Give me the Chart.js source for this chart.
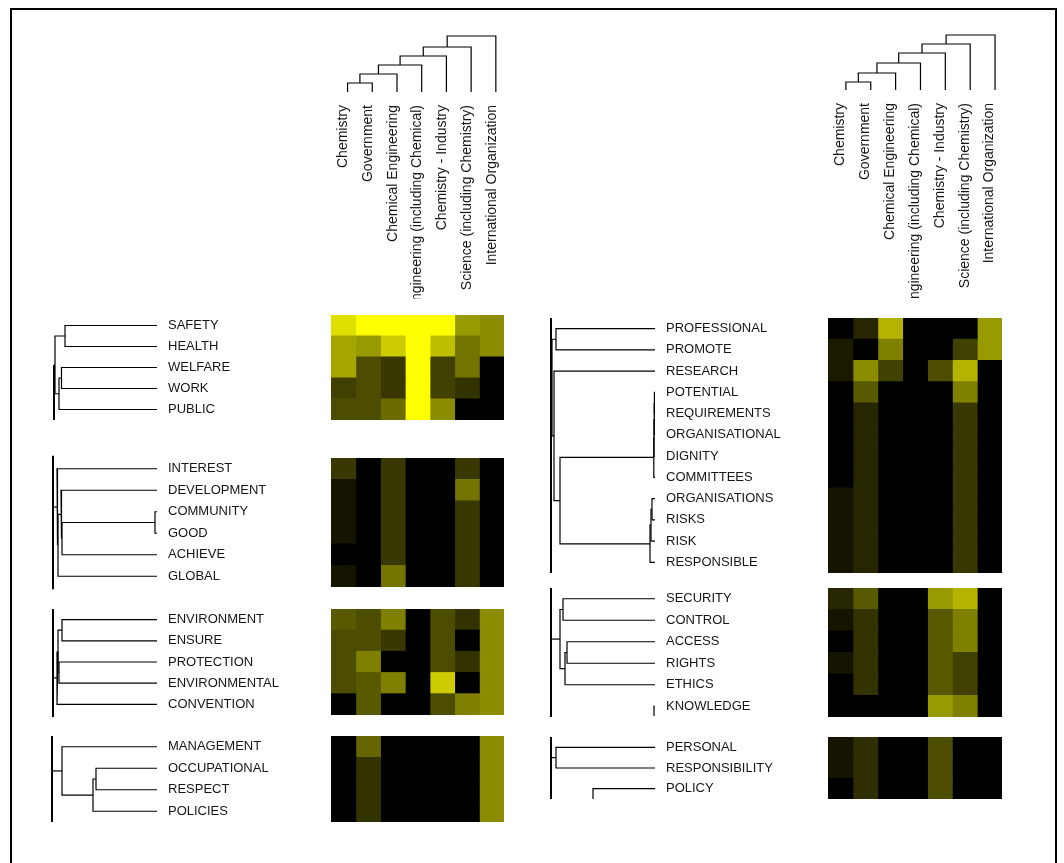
<!DOCTYPE html>
<html>
<head>
<meta charset="utf-8">
<script src="https://cdn.jsdelivr.net/npm/chart.js@4.4.1/dist/chart.umd.min.js"></script>
<style>
  body { margin: 0; background: #fff; }
  #page { position: relative; width: 1064px; height: 863px; overflow: hidden; background: #fff; }
  #frame { position: absolute; left: 10px; top: 8px; width: 1043px; height: 900px; border: 2px solid #000; }
  canvas { position: absolute; }
</style>
</head>
<body>
<div id="page"><div id="frame"></div></div>
<script>
// columns (same order in both halves)
const columns = ['Chemistry', 'Government', 'Chemical Engineering', 'Engineering (including Chemical)',
  'Chemistry - Industry', 'Science (including Chemistry)', 'International Organization'];

// dendrogram merges, hclust style: negative = leaf, positive = earlier merge, then height
const colMergesLeft = [[-1, -2, 0.9], [1, -3, 1.8], [2, -4, 2.7], [3, -5, 3.6], [4, -6, 4.5], [5, -7, 5.6]];
const colMergesRight = [[-1, -2, 0.8], [1, -3, 1.7], [2, -4, 2.7], [3, -5, 3.7], [4, -6, 4.6], [5, -7, 5.5]];

// ---- left half ----
const safetyRows = ['SAFETY', 'HEALTH', 'WELFARE', 'WORK', 'PUBLIC'];
const safetyValues = [
  [0.88, 1, 1, 1, 1, 0.6, 0.55],
  [0.65, 0.6, 0.8, 1, 0.75, 0.45, 0.55],
  [0.65, 0.3, 0.22, 1, 0.25, 0.45, 0],
  [0.25, 0.3, 0.22, 1, 0.25, 0.2, 0],
  [0.3, 0.3, 0.42, 1, 0.55, 0, 0]
];
const safetyMerges = [[-1, -2, 9.2], [-3, -4, 9.55], [2, -5, 9.8], [1, 3, 10.2]];
const safetyStem = [10.3, 1.875, 4.5];

const interestRows = ['INTEREST', 'DEVELOPMENT', 'COMMUNITY', 'GOOD', 'ACHIEVE', 'GLOBAL'];
const interestValues = [
  [0.22, 0, 0.22, 0, 0, 0.22, 0],
  [0.08, 0, 0.22, 0, 0, 0.45, 0],
  [0.08, 0, 0.22, 0, 0, 0.22, 0],
  [0.08, 0, 0.22, 0, 0, 0.22, 0],
  [0, 0, 0.22, 0, 0, 0.22, 0],
  [0.08, 0, 0.45, 0, 0, 0.22, 0]
];
const interestMerges = [[-3, -4, 0.2], [1, -5, 9.5], [-2, 2, 9.6], [3, -6, 9.9], [-1, 4, 10.0]];
const interestStem = [10.4, -0.6, 5.6];

const environmentRows = ['ENVIRONMENT', 'ENSURE', 'PROTECTION', 'ENVIRONMENTAL', 'CONVENTION'];
const environmentValues = [
  [0.35, 0.3, 0.5, 0, 0.3, 0.2, 0.55],
  [0.3, 0.3, 0.22, 0, 0.3, 0, 0.55],
  [0.3, 0.5, 0, 0, 0.3, 0.2, 0.55],
  [0.3, 0.35, 0.5, 0, 0.8, 0, 0.55],
  [0, 0.35, 0, 0, 0.3, 0.5, 0.55]
];
const environmentMerges = [[-1, -2, 9.5], [-3, -4, 9.8], [1, 2, 9.9], [3, -5, 10.0]];
const environmentStem = [10.4, -0.5, 4.6];

const managementRows = ['MANAGEMENT', 'OCCUPATIONAL', 'RESPECT', 'POLICIES'];
const managementValues = [
  [0, 0.4, 0, 0, 0, 0, 0.55],
  [0, 0.2, 0, 0, 0, 0, 0.55],
  [0, 0.2, 0, 0, 0, 0, 0.55],
  [0, 0.2, 0, 0, 0, 0, 0.55]
];
const managementMerges = [[-2, -3, 6.1], [1, -4, 6.4], [-1, 2, 9.5]];
const managementStem = [10.5, -0.5, 3.5];

// ---- right half ----
const professionalRows = ['PROFESSIONAL', 'PROMOTE', 'RESEARCH', 'POTENTIAL', 'REQUIREMENTS', 'ORGANISATIONAL',
  'DIGNITY', 'COMMITTEES', 'ORGANISATIONS', 'RISKS', 'RISK', 'RESPONSIBLE'];
const professionalValues = [
  [0, 0.15, 0.7, 0, 0, 0, 0.6],
  [0.1, 0, 0.5, 0, 0, 0.25, 0.6],
  [0.1, 0.55, 0.25, 0, 0.3, 0.7, 0],
  [0, 0.35, 0, 0, 0, 0.5, 0],
  [0, 0.15, 0, 0, 0, 0.22, 0],
  [0, 0.15, 0, 0, 0, 0.22, 0],
  [0, 0.15, 0, 0, 0, 0.22, 0],
  [0, 0.15, 0, 0, 0, 0.22, 0],
  [0.08, 0.15, 0, 0, 0, 0.22, 0],
  [0.08, 0.15, 0, 0, 0, 0.22, 0],
  [0.08, 0.15, 0, 0, 0, 0.22, 0],
  [0.08, 0.15, 0, 0, 0, 0.22, 0]
];
const professionalMerges = [[-1, -2, 9.9], [-4, -5, 0.06], [2, -6, 0.08], [3, -7, 0.1], [4, -8, 0.12],
  [-9, -10, 0.3], [6, -11, 0.4], [7, -12, 0.5], [5, 8, 9.5], [-3, 9, 10.1], [1, 10, 10.3]];
const professionalStem = [10.4, -0.5, 11.5];

const securityRows = ['SECURITY', 'CONTROL', 'ACCESS', 'RIGHTS', 'ETHICS', 'KNOWLEDGE'];
const securityValues = [
  [0.15, 0.35, 0, 0, 0.6, 0.7, 0],
  [0.08, 0.2, 0, 0, 0.35, 0.5, 0],
  [0, 0.2, 0, 0, 0.35, 0.5, 0],
  [0.08, 0.2, 0, 0, 0.35, 0.25, 0],
  [0, 0.2, 0, 0, 0.35, 0.25, 0],
  [0, 0, 0, 0, 0.6, 0.5, 0]
];
const securityMerges = [[-1, -2, 9.2], [-3, -4, 8.8], [2, -5, 9.0], [1, 3, 9.5]];
const securityStem = [10.4, -0.5, 5.5];
// leaves that hang off into a cut part of the tree: [row, height, row reached]
const securityStubs = [[5, 0.1, 5.45]];

const personalRows = ['PERSONAL', 'RESPONSIBILITY', 'POLICY'];
const personalValues = [
  [0.08, 0.18, 0, 0, 0.3, 0, 0],
  [0.08, 0.18, 0, 0, 0.3, 0, 0],
  [0, 0.18, 0, 0, 0.3, 0, 0]
];
const personalMerges = [[-1, -2, 9.9]];
const personalStem = [10.4, -0.5, 2.5];
const personalStubs = [[2, 6.2, 2.5]];

const ROW_FONT = { family: '"Liberation Sans", Arial, sans-serif', size: 13 };
const COL_FONT = { family: '"Liberation Sans", Arial, sans-serif', size: 14 };
const INK = '#161616';

function heat(v) {
  const c = Math.round(255 * v);
  return `rgb(${c},${c},0)`;
}

function addCanvas(left, top, width, height) {
  const c = document.createElement('canvas');
  c.width = width;
  c.height = height;
  c.style.left = left + 'px';
  c.style.top = top + 'px';
  document.getElementById('page').appendChild(c);
  return c;
}

// turn merges into polylines of [position, height]
function dendro(merges) {
  const pos = [], hgt = [], lines = [];
  const p = id => id < 0 ? -id - 1 : pos[id - 1];
  const h = id => id < 0 ? 0 : hgt[id - 1];
  merges.forEach(([a, b, ht]) => {
    lines.push([[p(a), h(a)], [p(a), ht], [p(b), ht], [p(b), h(b)]]);
    pos.push((p(a) + p(b)) / 2);
    hgt.push(ht);
  });
  return { lines, rootPos: pos[pos.length - 1], rootH: hgt[hgt.length - 1] };
}

function lineSet(points, width, xAxisID) {
  const set = {
    data: points,
    borderColor: '#000',
    borderWidth: width || 1.2,
    pointRadius: 0,
    tension: 0,
    fill: false,
    clip: false
  };
  if (xAxisID) set.xAxisID = xAxisID;
  return set;
}

const baseOptions = {
  responsive: false,
  animation: false,
  events: [],
  plugins: { legend: { display: false }, tooltip: { enabled: false } }
};

// column dendrogram with the column names under it
function columnHeader(merges, heatLeft, heatWidth, dendroTop, leafY, shift) {
  const pad = 30, bottom = 299;
  const axisH = bottom - leafY;
  const canvas = addCanvas(heatLeft - pad, 0, heatWidth + 2 * pad, bottom);
  const d = dendro(merges);
  const n = columns.length;
  new Chart(canvas, {
    type: 'line',
    data: { datasets: d.lines.map(l => lineSet(l.map(([x, y]) => ({ x, y })), 1.2, 'xd')) },
    options: {
      ...baseOptions,
      layout: { padding: { left: pad, right: pad, top: dendroTop, bottom: 0 } },
      scales: {
        x: {
          type: 'linear', min: -0.5, max: n - 0.5,
          grid: { display: false, drawTicks: false }, border: { display: false },
          afterBuildTicks: s => { s.ticks = columns.map((_, i) => ({ value: i })); },
          afterFit: s => { s.height = axisH; },
          ticks: {
            autoSkip: false, minRotation: 90, maxRotation: 90, padding: 13,
            color: INK, font: COL_FONT, callback: v => columns[v]
          }
        },
        xd: { type: 'linear', display: false, min: -0.5 - shift, max: n - 0.5 - shift },
        y: { display: false, min: 0, max: 6.2 }
      }
    }
  });
}

// row dendrogram with row names on its right
function rowTree(rows, merges, stem, stubs, leafX, top, rowH) {
  const pad = 30, axisW = 150, treeW = 110;
  const height = rows.length * rowH;
  const canvas = addCanvas(leafX - treeW, top - pad, treeW + axisW, height + 2 * pad);
  const d = dendro(merges);
  const sets = d.lines.map(l => lineSet(l.map(([y, x]) => ({ x, y }))));
  const [sh, from, to] = stem;
  sets.push(lineSet([{ x: d.rootH, y: d.rootPos }, { x: sh, y: d.rootPos }]));
  sets.push(lineSet([{ x: sh, y: from }, { x: sh, y: to }], 2));
  (stubs || []).forEach(([row, h, reach]) => {
    sets.push(lineSet([{ x: 0, y: row }, { x: h, y: row }, { x: h, y: reach }]));
  });
  new Chart(canvas, {
    type: 'line',
    data: { datasets: sets },
    options: {
      ...baseOptions,
      layout: { padding: { left: 0, right: 0, top: pad, bottom: pad } },
      scales: {
        x: { type: 'linear', display: false, reverse: true, min: 0, max: 11 },
        y: {
          type: 'linear', position: 'right', reverse: true, min: -0.5, max: rows.length - 0.5,
          grid: { display: false, drawTicks: false }, border: { display: false },
          afterBuildTicks: s => { s.ticks = rows.map((_, i) => ({ value: i })); },
          afterFit: s => { s.width = axisW; },
          ticks: { autoSkip: false, padding: 11, crossAlign: 'near', color: INK, font: ROW_FONT, callback: v => rows[v] }
        }
      }
    }
  });
}

// heatmap block: stacked horizontal bars, one dataset per column
function heatBlock(rows, values, left, width, top, rowH) {
  const canvas = addCanvas(left, top, width, rows.length * rowH);
  new Chart(canvas, {
    type: 'bar',
    data: {
      labels: rows,
      datasets: columns.map((c, j) => ({
        label: c,
        data: rows.map(() => 1),
        backgroundColor: values.map(r => heat(r[j])),
        borderWidth: 0,
        inflateAmount: 0.5,
        barPercentage: 1,
        categoryPercentage: 1
      }))
    },
    options: {
      ...baseOptions,
      indexAxis: 'y',
      layout: { padding: 0 },
      scales: {
        x: { stacked: true, display: false, min: 0, max: columns.length },
        y: { stacked: true, display: false }
      }
    }
  });
}

function panel(side, rows, values, merges, stem, stubs, top, rowH) {
  rowTree(rows, merges, stem, stubs, side.leafX, top, rowH);
  heatBlock(rows, values, side.heatLeft, side.heatWidth, top, rowH);
}

const leftSide = { leafX: 157, heatLeft: 331, heatWidth: 173 };
const rightSide = { leafX: 655, heatLeft: 828, heatWidth: 174 };

columnHeader(colMergesLeft, leftSide.heatLeft, leftSide.heatWidth, 30, 92, 0.17);
columnHeader(colMergesRight, rightSide.heatLeft, rightSide.heatWidth, 28, 90, 0.22);

panel(leftSide, safetyRows, safetyValues, safetyMerges, safetyStem, null, 315, 21);
panel(leftSide, interestRows, interestValues, interestMerges, interestStem, null, 458, 21.5);
panel(leftSide, environmentRows, environmentValues, environmentMerges, environmentStem, null, 609, 21.2);
panel(leftSide, managementRows, managementValues, managementMerges, managementStem, null, 736, 21.5);

panel(rightSide, professionalRows, professionalValues, professionalMerges, professionalStem, null, 318, 21.25);
panel(rightSide, securityRows, securityValues, securityMerges, securityStem, securityStubs, 588, 21.5);
panel(rightSide, personalRows, personalValues, personalMerges, personalStem, personalStubs, 737, 20.67);
</script>
</body>
</html>
